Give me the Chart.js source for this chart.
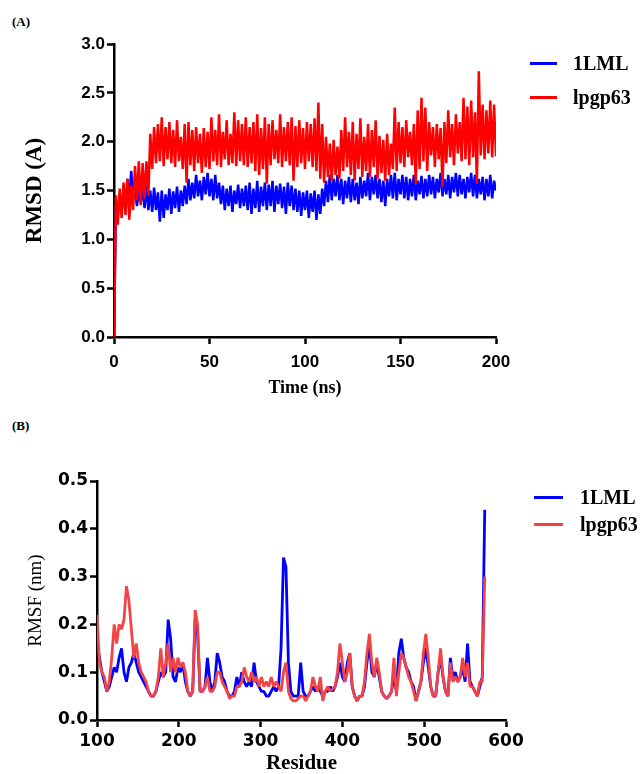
<!DOCTYPE html>
<html>
<head>
<meta charset="utf-8">
<script src="https://cdn.jsdelivr.net/npm/chart.js@4.4.1/dist/chart.umd.min.js"></script>
<style>
  body { margin: 0; background: #fff; width: 642px; height: 774px; position: relative; overflow: hidden; }
  .panel-tag { position: absolute; left: 12px; font: bold 13px "Liberation Serif", "Times New Roman", serif; color: #000; }
  canvas { position: absolute; left: 0; }
  .legend-row { position: absolute; display: flex; align-items: center; height: 24px; white-space: nowrap;
    font: bold 20px "Liberation Serif", "Times New Roman", serif; color: #000; }
  .legend-row .swatch { display: inline-block; width: 27px; height: 3px; }
</style>
</head>
<body>
<div class="panel-tag" style="top:14px;">(A)</div>
<div class="panel-tag" style="top:418px;">(B)</div>

<canvas id="chart-rmsd" width="642" height="410" style="top:0;"></canvas>
<canvas id="chart-rmsf" width="642" height="364" style="top:410px;"></canvas>

<div class="legend-row" style="left:530px; top:51px;"><span class="swatch" style="background:#0000ff; margin-right:16px;"></span>1LML</div>
<div class="legend-row" style="left:530px; top:85px;"><span class="swatch" style="background:#ff0000; margin-right:16px;"></span>lpgp63</div>
<div class="legend-row" style="left:534px; top:485px;"><span class="swatch" style="background:#0000ff; width:29px; margin-right:17px;"></span>1LML</div>
<div class="legend-row" style="left:534px; top:512px;"><span class="swatch" style="background:#f24444; width:29px; margin-right:17px;"></span>lpgp63</div>

<script>
// ---- panel A: RMSD, one frame per ns ----
const timeStart = 0;
const timeStep = 1;
const timeTicks = [0, 50, 100, 150, 200];
const rmsdTicks = [0, 0.5, 1.0, 1.5, 2.0, 2.5, 3.0];

const rmsd1LML = [
  0, 1.35, 1.25, 1.45, 1.28, 1.48, 1.32, 1.62, 1.40, 1.70,
  1.45, 1.52, 1.34, 1.50, 1.38, 1.52, 1.32, 1.55, 1.30, 1.50,
  1.28, 1.53, 1.30, 1.48, 1.18, 1.50, 1.22, 1.46, 1.30, 1.52,
  1.26, 1.49, 1.32, 1.54, 1.28, 1.50, 1.34, 1.55, 1.36, 1.62,
  1.40, 1.58, 1.42, 1.66, 1.44, 1.60, 1.40, 1.64, 1.46, 1.68,
  1.44, 1.62, 1.40, 1.66, 1.42, 1.58, 1.36, 1.55, 1.30, 1.52,
  1.34, 1.55, 1.28, 1.50, 1.36, 1.56, 1.32, 1.52, 1.34, 1.55,
  1.30, 1.58, 1.26, 1.52, 1.32, 1.60, 1.28, 1.54, 1.34, 1.58,
  1.30, 1.56, 1.34, 1.60, 1.28, 1.55, 1.36, 1.57, 1.32, 1.54,
  1.26, 1.58, 1.34, 1.55, 1.30, 1.52, 1.28, 1.50, 1.24, 1.48,
  1.30, 1.50, 1.22, 1.47, 1.28, 1.50, 1.20, 1.46, 1.26, 1.52,
  1.34, 1.60, 1.38, 1.66, 1.40, 1.62, 1.44, 1.66, 1.40, 1.62,
  1.36, 1.60, 1.42, 1.64, 1.38, 1.62, 1.40, 1.58, 1.36, 1.64,
  1.42, 1.60, 1.44, 1.68, 1.40, 1.64, 1.46, 1.66, 1.42, 1.62,
  1.38, 1.60, 1.34, 1.62, 1.44, 1.66, 1.42, 1.68, 1.40, 1.62,
  1.46, 1.66, 1.42, 1.64, 1.40, 1.62, 1.44, 1.66, 1.40, 1.60,
  1.46, 1.65, 1.42, 1.62, 1.44, 1.66, 1.46, 1.64, 1.42, 1.62,
  1.48, 1.68, 1.44, 1.62, 1.46, 1.66, 1.42, 1.64, 1.48, 1.68,
  1.44, 1.66, 1.46, 1.62, 1.42, 1.64, 1.48, 1.68, 1.44, 1.66,
  1.42, 1.62, 1.46, 1.64, 1.40, 1.62, 1.44, 1.66, 1.42, 1.60,
  1.50
];

const rmsdLpgp63 = [
  0, 1.45, 1.15, 1.52, 1.22, 1.58, 1.25, 1.62, 1.20, 1.55,
  1.30, 1.75, 1.40, 1.80, 1.35, 1.78, 1.42, 1.80, 1.45, 2.08,
  1.72, 2.15, 1.78, 2.18, 1.80, 2.25, 1.75, 2.15, 1.82, 2.20,
  1.78, 2.12, 1.74, 2.22, 1.80, 2.05, 1.72, 2.18, 1.58, 2.20,
  1.76, 2.12, 1.70, 2.15, 1.78, 2.08, 1.68, 2.14, 1.74, 2.10,
  1.72, 2.25, 1.80, 2.12, 1.76, 2.28, 1.74, 2.10, 1.82, 2.22,
  1.76, 2.08, 1.78, 2.30, 1.75, 2.22, 1.80, 2.18, 1.76, 2.25,
  1.74, 2.15, 1.78, 2.20, 1.70, 2.28, 1.66, 2.14, 1.72, 2.25,
  1.57, 2.18, 1.76, 2.22, 1.82, 2.12, 1.78, 2.28, 1.74, 2.15,
  1.80, 2.20, 1.76, 2.25, 1.60, 2.16, 1.74, 2.22, 1.78, 2.14,
  1.72, 2.20, 1.80, 2.18, 1.74, 2.24, 1.70, 2.40, 1.62, 2.18,
  1.58, 2.05, 1.64, 1.98, 1.60, 2.02, 1.66, 1.95, 1.62, 2.12,
  1.70, 2.25, 1.74, 2.10, 1.66, 2.20, 1.60, 2.08, 1.72, 2.24,
  1.64, 2.05, 1.70, 2.18, 1.64, 2.12, 1.74, 2.22, 1.62, 2.06,
  1.68, 2.02, 1.60, 2.08, 1.66, 1.98, 1.72, 2.35, 1.70, 2.20,
  1.78, 2.15, 1.74, 2.22, 1.84, 2.10, 1.76, 2.18, 1.57, 2.32,
  1.72, 2.45, 1.80, 2.35, 1.70, 2.20, 1.86, 2.15, 1.74, 2.18,
  1.82, 2.14, 1.54, 2.20, 1.78, 2.32, 1.84, 2.18, 1.76, 2.28,
  1.88, 2.20, 1.80, 2.45, 1.82, 2.36, 1.76, 2.42, 1.84, 2.30,
  1.57, 2.72, 1.86, 2.38, 1.82, 2.32, 1.88, 2.42, 1.84, 2.38,
  1.85
];

// ---- panel B: RMSF, every 3rd residue ----
const residueStart = 100;
const residueStep = 3;
const residueTicks = [100, 200, 300, 400, 500, 600];
const rmsfTicks = [0, 0.1, 0.2, 0.3, 0.4, 0.5];

const rmsf1LML = [
  0.16, 0.13, 0.10, 0.08, 0.06, 0.07, 0.09, 0.11, 0.10, 0.13,
  0.15, 0.10, 0.08, 0.11, 0.12, 0.14, 0.12, 0.10, 0.09, 0.08,
  0.07, 0.06, 0.05, 0.05, 0.06, 0.08, 0.10, 0.09, 0.10, 0.21,
  0.17, 0.09, 0.08, 0.11, 0.10, 0.12, 0.08, 0.06, 0.05, 0.06,
  0.21, 0.18, 0.06, 0.06, 0.07, 0.13, 0.08, 0.06, 0.08, 0.14,
  0.12, 0.09, 0.08, 0.06, 0.05, 0.05, 0.06, 0.09, 0.07, 0.10,
  0.08, 0.07, 0.08, 0.07, 0.12, 0.08, 0.07, 0.06, 0.06, 0.05,
  0.05, 0.06, 0.07, 0.06, 0.07, 0.15, 0.34, 0.32, 0.12, 0.06,
  0.05, 0.05, 0.05, 0.12, 0.06, 0.05, 0.05, 0.06, 0.07, 0.06,
  0.07, 0.06, 0.05, 0.06, 0.06, 0.07, 0.06, 0.07, 0.09, 0.12,
  0.09, 0.08, 0.12, 0.14, 0.07, 0.05, 0.04, 0.05, 0.05, 0.07,
  0.12, 0.16, 0.10, 0.09, 0.12, 0.09, 0.06, 0.05, 0.045, 0.05,
  0.06, 0.09, 0.06, 0.14, 0.17, 0.13, 0.11, 0.10, 0.08, 0.07,
  0.04, 0.06, 0.08, 0.12, 0.15, 0.11, 0.07, 0.05, 0.05, 0.10,
  0.13, 0.09, 0.06, 0.05, 0.13, 0.09, 0.10, 0.08, 0.09, 0.11,
  0.08, 0.16, 0.08, 0.07, 0.06, 0.05, 0.07, 0.09,
  0.44
];

const rmsfLpgp63 = [
  0.22, 0.12, 0.10, 0.09, 0.06, 0.08, 0.13, 0.20, 0.16, 0.20,
  0.19, 0.21, 0.28, 0.25, 0.19, 0.13, 0.16, 0.12, 0.10, 0.09,
  0.08, 0.06, 0.05, 0.05, 0.06, 0.09, 0.15, 0.09, 0.12, 0.16,
  0.10, 0.13, 0.10, 0.13, 0.11, 0.12, 0.10, 0.06, 0.05, 0.06,
  0.23, 0.20, 0.06, 0.06, 0.07, 0.09, 0.06, 0.06, 0.07, 0.10,
  0.10, 0.08, 0.07, 0.06, 0.045, 0.05, 0.05, 0.07, 0.07, 0.08,
  0.11, 0.09, 0.08, 0.10, 0.08, 0.09, 0.07, 0.09, 0.07, 0.08,
  0.07, 0.09, 0.07, 0.08, 0.07, 0.06, 0.10, 0.12, 0.06, 0.045,
  0.04, 0.04, 0.045, 0.05, 0.05, 0.04, 0.05, 0.06, 0.09, 0.07,
  0.06, 0.09, 0.04, 0.06, 0.07, 0.06, 0.065, 0.07, 0.10, 0.16,
  0.12, 0.08, 0.10, 0.14, 0.07, 0.05, 0.04, 0.05, 0.05, 0.08,
  0.14, 0.18, 0.12, 0.09, 0.13, 0.10, 0.06, 0.05, 0.045, 0.05,
  0.06, 0.13, 0.05, 0.10, 0.14, 0.13, 0.11, 0.09, 0.08, 0.06,
  0.04, 0.06, 0.08, 0.14, 0.18, 0.13, 0.07, 0.05, 0.05, 0.10,
  0.15, 0.09, 0.06, 0.05, 0.12, 0.08, 0.09, 0.08, 0.09, 0.13,
  0.09, 0.12, 0.07, 0.07, 0.06, 0.05, 0.08, 0.08,
  0.30
];

// helpers
const sansBold = size => ({ family: '"Liberation Sans", Arial, sans-serif', size: size, weight: 'bold' });
const serif = (size, weight, lh) => ({ family: '"Liberation Serif", "Times New Roman", serif', size: size, weight: weight, lineHeight: lh });

function toPoints(start, step, values) {
  return values.map((v, i) => ({ x: start + i * step, y: v }));
}

function lineDataset(label, points, color, width, order) {
  return {
    label: label,
    data: points,
    borderColor: color,
    backgroundColor: color,
    borderWidth: width,
    borderJoinStyle: 'bevel',
    pointRadius: 0,
    tension: 0,
    order: order
  };
}

function axis(o) {
  return {
    type: 'linear',
    position: o.position,
    min: o.min,
    max: o.max,
    afterBuildTicks: s => { s.ticks = o.ticks.map(v => ({ value: v })); },
    afterFit: s => { if (o.position === 'left') s.width = o.size; else s.height = o.size; },
    grid: { display: true, drawOnChartArea: false, drawTicks: true, tickLength: 7, tickWidth: 2.5, tickColor: '#000' },
    border: { display: true, color: '#000', width: 2.5 },
    ticks: {
      color: '#000',
      font: o.tickFont,
      padding: o.tickPad,
      maxRotation: 0,
      autoSkip: false,
      callback: o.fmt
    },
    title: { display: true, text: o.title, color: '#000', font: o.titleFont, padding: { top: 0, bottom: 0 } }
  };
}

const chartRmsd = new Chart(document.getElementById('chart-rmsd').getContext('2d'), {
  type: 'line',
  data: {
    datasets: [
      lineDataset('1LML', toPoints(timeStart, timeStep, rmsd1LML), '#0000ff', 2.5, 1),
      lineDataset('lpgp63', toPoints(timeStart, timeStep, rmsdLpgp63), '#ff0000', 2.5, 0)
    ]
  },
  options: {
    responsive: false,
    animation: false,
    layout: { padding: { left: 21, right: 146, top: 44, bottom: 11 } },
    plugins: { legend: { display: false }, tooltip: { enabled: false } },
    scales: {
      x: axis({ position: 'bottom', min: 0, max: 200, ticks: timeTicks, size: 62, tickPad: 8,
        tickFont: sansBold(17), fmt: v => String(v), title: 'Time (ns)', titleFont: serif(18, 'bold', 1.2) }),
      y: axis({ position: 'left', min: 0, max: 3, ticks: rmsdTicks, size: 93, tickPad: 2,
        tickFont: sansBold(17), fmt: v => v.toFixed(1), title: 'RMSD (A)', titleFont: serif(23, 'bold', 1.2) })
    }
  }
});

const chartRmsf = new Chart(document.getElementById('chart-rmsf').getContext('2d'), {
  type: 'line',
  data: {
    datasets: [
      lineDataset('1LML', toPoints(residueStart, residueStep, rmsf1LML), '#0000ff', 2.8, 1),
      lineDataset('lpgp63', toPoints(residueStart, residueStep, rmsfLpgp63), '#f24444', 2.8, 0)
    ]
  },
  options: {
    responsive: false,
    animation: false,
    layout: { padding: { left: 25, right: 136, top: 71, bottom: 0 } },
    plugins: { legend: { display: false }, tooltip: { enabled: false } },
    scales: {
      x: axis({ position: 'bottom', min: 100, max: 600, ticks: residueTicks, size: 54, tickPad: 4,
        tickFont: { family: '"DejaVu Sans", sans-serif', size: 17, weight: 'bold' }, fmt: v => String(v),
        title: 'Residue', titleFont: serif(21, 'bold', 1.0) }),
      y: axis({ position: 'left', min: 0, max: 0.5, ticks: rmsfTicks, size: 72, tickPad: 2,
        tickFont: { family: '"DejaVu Sans", sans-serif', size: 17, weight: 'bold' }, fmt: v => v.toFixed(1),
        title: 'RMSF (nm)', titleFont: serif(19, 'normal', 1.2) })
    }
  }
});
</script>
</body>
</html>
